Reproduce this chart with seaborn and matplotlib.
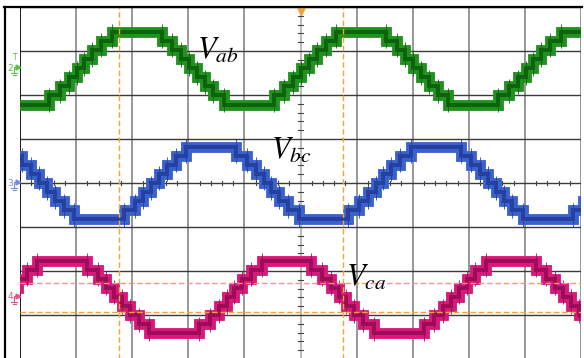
import matplotlib
matplotlib.use("Agg")
import matplotlib.pyplot as plt
from matplotlib.lines import Line2D
import pandas as pd
import seaborn as sns

# ---- waveform data -------------------------------------------------------
# one period of the multilevel staircase: switching angles (deg, measured from
# the rising zero crossing) and the level held after each switching instant
switch_angles = [6, 19, 33, 50, 130, 147, 161, 174, 186, 199, 213, 230, 310, 327, 341, 354]
switch_levels = [1, 2, 3, 4, 3, 2, 1, 0, -1, -2, -3, -4, -3, -2, -1, 0]

channels = ["Vab", "Vbc", "Vca"]
zero_cross_div = [1.08, 2.41, 3.75]      # rising zero crossing, horizontal divisions
offset_div = [2.61, 0.0, -2.59]          # channel ground level, vertical divisions
level_step_div = 0.207                   # height of one level, vertical divisions
period_div = 4.0                         # one period spans four divisions

labels = [r"$V_{ab}$", r"$V_{bc}$", r"$V_{ca}$"]
label_px = [(197, 59), (271, 159), (346, 286)]
marker_names = ["2", "3", "4"]

cursor_x_div = [1.765, 5.76]
cursor_y_div = [-2.28, -2.94]

outer_colors = {"Vab": "#22921e", "Vbc": "#3a62cc", "Vca": "#d6197a"}
core_colors = {"Vab": "#0d620d", "Vbc": "#25409e", "Vca": "#9c0d58"}
orange = "#f4a23a"

# ---- build the traces ----------------------------------------------------
rows, edges = [], []
for name, zc, off in zip(channels, zero_cross_div, offset_div):
    prev = switch_levels[-1]
    t0 = zc + (-3 * 360) / 360 * period_div
    rows.append((name, t0, off + prev * level_step_div))
    for k in range(-3, 4):
        for ang, lev in zip(switch_angles, switch_levels):
            t = zc + (k * 360 + ang) / 360 * period_div
            rows.append((name, t, off + lev * level_step_div))
            edges.append((name, t, off + min(prev, lev) * level_step_div,
                          off + max(prev, lev) * level_step_div))
            prev = lev
df = pd.DataFrame(rows, columns=["channel", "t", "v"])

# ---- figure --------------------------------------------------------------
W, H = 584, 358
fig = plt.figure(figsize=(W / 100, H / 100), dpi=100)
fig.patch.set_facecolor("white")


def fx(x):
    return x / W


def fy(y):
    return 1 - y / H


ax = fig.add_axes([fx(20), fy(359), 561 / W, 352 / H])
ax.set_xlim(0, 10)
ax.set_ylim(-4, 4)
ax.axis("off")

# graticule
for i in range(11):
    col = "#a8a8a8" if i == 5 else "#7a7a7a"
    ax.axvline(i, color=col, lw=1.1, zorder=1)
for j in range(-4, 5):
    ax.axhline(j, color="#3a3a3a", lw=1.0, zorder=1)
ax.axvline(0, color="#111111", lw=1.3, zorder=1)
for m in range(1, 50):
    x = m * 0.2
    if m % 5:
        ax.plot([x, x], [-0.05, 0.05], color="#444444", lw=0.8, zorder=1)
for m in range(-19, 20):
    y = m * 0.2
    if m % 5:
        ax.plot([4.96, 5.04], [y, y], color="#444444", lw=0.8, zorder=1)

# traces: a wide band with a darker core, drawn as stepped lines
sns.lineplot(data=df, x="t", y="v", hue="channel", hue_order=channels,
             palette=outer_colors, estimator=None, sort=False, units="channel",
             drawstyle="steps-post", lw=7.8, legend=False, ax=ax, zorder=3,
             solid_capstyle="butt", solid_joinstyle="miter")
sns.lineplot(data=df, x="t", y="v", hue="channel", hue_order=channels,
             palette=core_colors, estimator=None, sort=False, units="channel",
             drawstyle="steps-post", lw=2.8, legend=False, ax=ax, zorder=4,
             solid_capstyle="butt", solid_joinstyle="miter")
for name, t, lo, hi in edges:
    ax.vlines(t, lo - 0.17, hi + 0.17, color=core_colors[name], lw=0.6, zorder=4)

# cursors
for x in cursor_x_div:
    ax.axvline(x, color=orange, lw=1.0, ls=(0, (4, 2)), zorder=6)
for y in cursor_y_div:
    ax.axhline(y, color=orange, lw=1.0, ls=(0, (4, 2)), zorder=6)
ax.plot(5, 3.9, marker="v", color=orange, ms=6, clip_on=False, zorder=7)

# outer frame
fig.add_artist(Line2D([fx(4), fx(582)], [fy(7), fy(7)], color="black", lw=1.6))
fig.add_artist(Line2D([fx(5), fx(5)], [fy(7), fy(360)], color="black", lw=1.6))

# channel ground markers in the left strip
marker_colors = ["#5dbb4a", "#6f8ddc", "#e0508f"]
for name, off, col in zip(marker_names, offset_div, marker_colors):
    ypx = 7 + (4 - off) * 44
    fig.text(fx(10), fy(ypx), name, color=col, fontsize=6.5, ha="center", va="center")
    fig.add_artist(Line2D([fx(14), fx(14), fx(17)], [fy(ypx + 5), fy(ypx - 1), fy(ypx - 1)],
                          color=col, lw=0.8))
    fig.add_artist(Line2D([fx(17.5)], [fy(ypx - 1)], marker=">", ms=3.5, color=col, lw=0))
    fig.add_artist(Line2D([fx(11), fx(17)], [fy(ypx + 5), fy(ypx + 5)], color=col, lw=0.8))
    fig.add_artist(Line2D([fx(12.5), fx(15.5)], [fy(ypx + 7), fy(ypx + 7)], color=col, lw=0.8))
fig.text(fx(15), fy(58), "T", color=marker_colors[0], fontsize=5.5, ha="center", va="center")

# channel labels
plt.rcParams["mathtext.fontset"] = "stix"
for text, (x, y) in zip(labels, label_px):
    fig.text(fx(x), fy(y), text, fontsize=22, color="black", va="baseline", ha="left",
             zorder=8)

fig.savefig("out.png", dpi=100, facecolor="white")
